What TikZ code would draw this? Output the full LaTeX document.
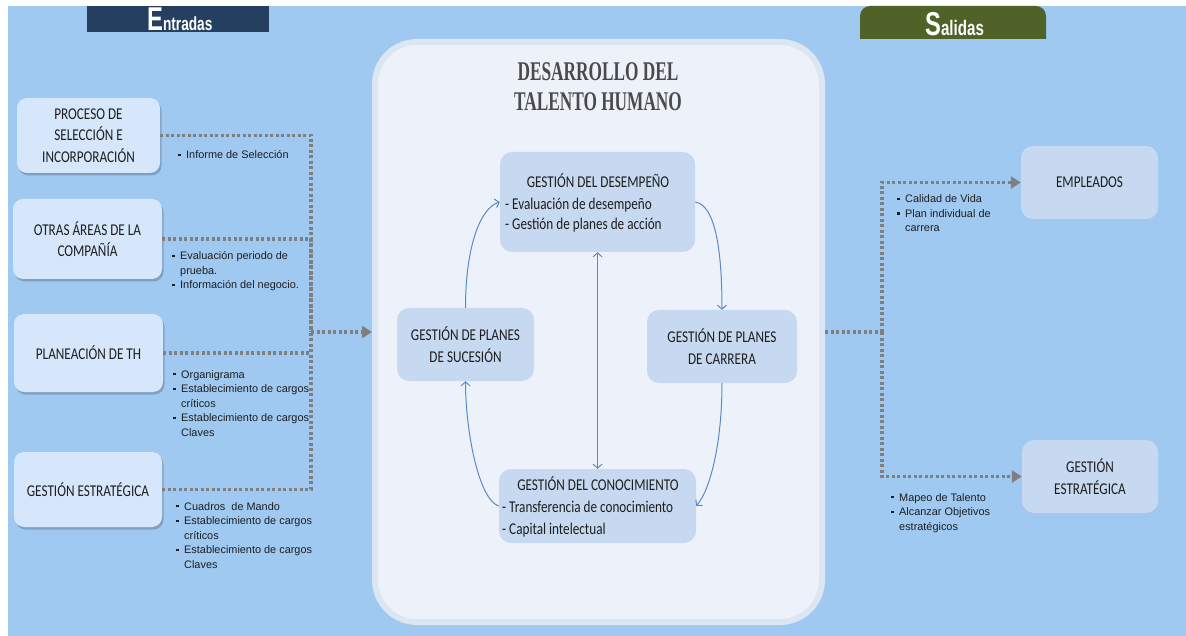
\documentclass[tikz,border=0pt]{standalone}
\usepackage{fontspec}
\usetikzlibrary{arrows.meta,shadows}
\newfontfamily\boxfont[FakeStretch=0.8]{Carlito}
\newfontfamily\bulfont{Liberation Sans}
\newfontfamily\titlefont[FakeStretch=0.64]{Liberation Serif}
\newfontfamily\tabfont[FakeStretch=0.72]{Liberation Sans}
\definecolor{bgblue}{HTML}{A0C9F1}
\definecolor{navytab}{HTML}{243F60}
\definecolor{olivetab}{HTML}{4F6228}
\definecolor{lboxcol}{HTML}{D6E7FC}
\definecolor{iboxcol}{HTML}{C6D9F1}
\definecolor{bigfill}{HTML}{EDF2FA}
\definecolor{bigdraw}{HTML}{DCE6F2}
\definecolor{dotcol}{HTML}{7F7F7F}
\definecolor{arrcol}{HTML}{5A8AC6}
\definecolor{txtcol}{HTML}{1E1E1E}
\definecolor{titlecol}{HTML}{4A4A4A}
\definecolor{shadowcol}{HTML}{5A6E88}
\newcommand{\mybul}{\raisebox{2.6pt}{\rule{2.4pt}{2.4pt}}}
\newcommand{\mylist}[1]{\begin{tabular}[t]{@{}l@{\hspace{5.6pt}}l@{}}#1\end{tabular}}
\newcommand{\mylines}[1]{\begin{tabular}[t]{@{}l@{}}#1\end{tabular}}
\begin{document}
\begin{tikzpicture}[x=1pt,y=-1pt,
  lbox/.style={fill=lboxcol, rounded corners=10pt,
    drop shadow={shadow xshift=1.5pt,shadow yshift=-2.5pt,fill=shadowcol,opacity=0.45},
    font=\boxfont\fontsize{16.5}{21.5}\selectfont, text=txtcol, align=center, inner sep=0pt},
  ibox/.style={fill=iboxcol, rounded corners=12pt,
    font=\boxfont\fontsize{16.5}{21.5}\selectfont, text=txtcol, align=center, inner sep=0pt},
  itxt/.style={inner sep=0pt, font=\boxfont\fontsize{16.5}{20}\selectfont, text=txtcol},
  btxt/.style={anchor=base west, inner sep=0pt, font=\bulfont\fontsize{10.9}{14.5}\selectfont, text=txtcol},
  dots/.style={draw=dotcol, line width=3.5pt, dash pattern=on 3pt off 2.5pt},
  dotarrow/.style={dots, -{Triangle[length=10pt,width=12pt]}},
  cyc/.style={draw=arrcol, line width=1pt, -{Straight Barb[length=4pt,width=9pt]}},
  cyc2/.style={draw=arrcol, line width=1pt, {Straight Barb[length=4pt,width=9pt]}-{Straight Barb[length=4pt,width=9pt]}},
]
\useasboundingbox (0,0) rectangle (1186,636);
\fill[white] (0,0) rectangle (1186,636);
\fill[bgblue] (8,6) rectangle (1186,636);

% tabs
\fill[navytab] (87,6) rectangle (269,32);
\begin{scope}
  \clip (850,0) rectangle (1060,39);
  \fill[olivetab, rounded corners=10pt] (860,6) rectangle (1046,60);
\end{scope}
\node[anchor=base west, inner sep=0pt, text=white, font=\tabfont\bfseries] (tabE) at (147,30.5)
  {{\fontsize{33}{33}\selectfont E}{\fontsize{19}{19}\selectfont ntradas}};
\node[anchor=base west, inner sep=0pt, text=white, font=\tabfont\bfseries] (tabS) at (925,36)
  {{\fontsize{33}{33}\selectfont S}{\fontsize{21}{21}\selectfont alidas}};

% central big box
\node[draw=bigdraw, line width=6pt, fill=bigfill, rounded corners=42pt,
  minimum width=447pt, minimum height=580pt, inner sep=0pt] (big) at (598.5,332) {};
\node[inner sep=0pt, align=center, text=titlecol, font=\titlefont\bfseries\fontsize{27}{30}\selectfont] (title) at (598,87)
  {DESARROLLO DEL\\TALENTO HUMANO};

% left input boxes
\node[lbox, minimum width=143pt, minimum height=75pt] (sel) at (88.5,135.5) {PROCESO DE\\SELECCIÓN E\\INCORPORACIÓN};
\node[lbox, minimum width=149pt, minimum height=80pt] (otr) at (87.5,239) {OTRAS ÁREAS\ DE LA\\COMPAÑÍA};
\node[lbox, minimum width=149pt, minimum height=78pt] (pla) at (88.5,353) {PLANEACIÓN DE TH};
\node[lbox, minimum width=148pt, minimum height=75pt] (ges) at (88,489.5) {GESTIÓN ESTRATÉGICA};

% left bullet texts
\node[btxt] (b1) at (178,159) {\mylist{\mybul & Informe de Selección}};
\node[btxt] (b2) at (172,260) {\mylist{\mybul & Evaluación periodo de\\ & prueba.\\ \mybul & Información del negocio.}};
\node[btxt] (b3) at (173,378) {\mylist{\mybul & Organigrama\\ \mybul & Establecimiento de cargos\\ & críticos\\ \mybul & Establecimiento de cargos\\ & Claves}};
\node[btxt] (b4) at (176,510) {\mylist{\mybul & Cuadros\ \ de Mando\\ \mybul & Establecimiento de cargos\\ & críticos\\ \mybul & Establecimiento de cargos\\ & Claves}};

% left dotted connectors
\coordinate (jL) at (311,332);
\draw[dots] (sel.east) -| (jL);
\draw[dots] (otr.east) -| (jL);
\draw[dots] (pla.east) -| (jL);
\draw[dots] (ges.east) -| (jL);
\draw[dotarrow] (jL) -- (big.west |- jL);

% inner boxes
\node[ibox, minimum width=195pt, minimum height=100pt] (des) at (597.5,202) {};
\node[ibox, minimum width=137pt, minimum height=73pt] (suc) at (465.5,344.5) {GESTIÓN DE PLANES\\DE SUCESIÓN};
\node[ibox, minimum width=150pt, minimum height=73pt] (car) at (722,346.5) {GESTIÓN DE PLANES\\DE CARRERA};
\node[ibox, minimum width=197pt, minimum height=74pt] (con) at (597.5,506) {};

\node[itxt, anchor=base] (desT) at (598,187.5) {GESTIÓN DEL\ DESEMPEÑO};
\node[itxt, anchor=base west] (desL) at (505,210) {\mylines{- Evaluación de desempeño\\- Gestión de planes de acción}};
\node[itxt, anchor=base] (conT) at (598,490) {GESTIÓN DEL CONOCIMIENTO};
\node[itxt, anchor=base west, font=\boxfont\fontsize{16.5}{22}\selectfont] (conL) at (502,512.3) {\mylines{- Transferencia de conocimiento\\- Capital intelectual}};

% cycle arrows
\draw[cyc] (suc.north) .. controls +(0,-60) and +(-20,6) .. (des.west);
\draw[cyc] (des.east) .. controls +(20,3) and +(0,-60) .. (car.north);
\draw[cyc] (car.south) .. controls +(0,60) and +(14,-16) .. (con.east);
\draw[cyc] (con.west) .. controls +(-20,-6) and +(0,50) .. (suc.south);
\draw[cyc2] (des.south) -- (con.north);

% right side
\node[ibox, minimum width=137pt, minimum height=73pt] (emp) at (1089.5,182.5) {EMPLEADOS};
\node[ibox, minimum width=136pt, minimum height=73pt] (gse) at (1090,476.5) {GESTIÓN\\ESTRATÉGICA};
\coordinate (jR) at (882,332);
\draw[dots] (big.east |- jR) -- (jR);
\draw[dotarrow] (jR) |- (emp.west);
\draw[dotarrow] (jR) |- (gse.west);
\node[btxt] (b5) at (897,203) {\mylist{\mybul & Calidad de Vida\\ \mybul & Plan individual de\\ & carrera}};
\node[btxt] (b6) at (891,501) {\mylist{\mybul & Mapeo de Talento\\ \mybul & Alcanzar Objetivos\\ & estratégicos}};
\end{tikzpicture}
\end{document}
